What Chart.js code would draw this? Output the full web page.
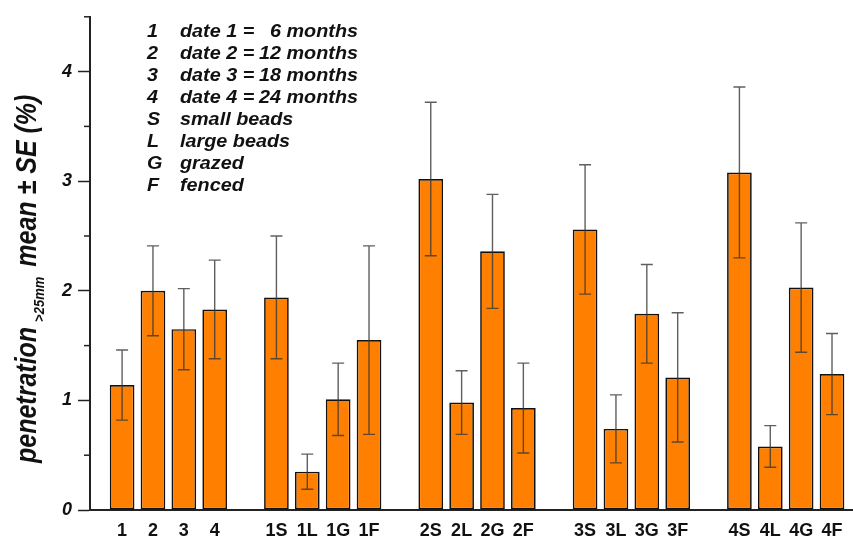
<!DOCTYPE html>
<html lang="en">
<head>
	<meta charset="UTF-8">
	<title>penetration &gt;25mm</title>
	<script src="https://cdn.jsdelivr.net/npm/chart.js"></script>
	<style>
		html,body{margin:0;padding:0;background:#fff;}
		.box{width:853px;height:537px;}
	</style>
</head>
<body>
	<div class="box">
		<canvas id="myChart" width="853" height="537"></canvas>
	</div>
</body>
<script>
	// categories ('' = gap between groups)
	var categories=['1','2','3','4','','1S','1L','1G','1F','','2S','2L','2G','2F','','3S','3L','3G','3F','','4S','4L','4G','4F'];
	// mean penetration >25mm (%)
	var means=[1.14,2.00,1.65,1.83,null,1.94,0.35,1.01,1.55,null,3.02,0.98,2.36,0.93,null,2.56,0.74,1.79,1.21,null,3.08,0.58,2.03,1.24];
	// standard error
	var errors=[0.32,0.41,0.37,0.45,null,0.56,0.16,0.33,0.86,null,0.70,0.29,0.52,0.41,null,0.59,0.31,0.45,0.59,null,0.78,0.19,0.59,0.37];
	var yTicks=[0,1,2,3,4];
	var legendKeys=['1','2','3','4','S','L','G','F'];
	var legendText=['date 1 =','date 2 =','date 3 =','date 4 =','small beads','large beads','grazed','fenced'];
	var legendMonths=['6 months','12 months','18 months','24 months','','','',''];

	var FONT='"Liberation Sans", Arial, sans-serif';

	var points=[];
	for(var i=0;i<categories.length;i++){
		if(means[i]!==null) points.push({x:i,y:means[i]});
	}

	var extras={
		id:'extras',
		afterDatasetsDraw:function(chart){
			var ctx=chart.ctx, xs=chart.scales.x, ys=chart.scales.y;
			ctx.save();
			// error bars
			ctx.strokeStyle='rgba(55,55,55,0.8)';
			ctx.lineWidth=1.4;
			for(var i=0;i<categories.length;i++){
				if(means[i]===null) continue;
				var x=xs.getPixelForValue(i);
				var top=ys.getPixelForValue(means[i]+errors[i]);
				var bot=ys.getPixelForValue(means[i]-errors[i]);
				ctx.beginPath();
				ctx.moveTo(x,top);ctx.lineTo(x,bot);
				ctx.moveTo(x-6,top);ctx.lineTo(x+6,top);
				ctx.moveTo(x-6,bot);ctx.lineTo(x+6,bot);
				ctx.stroke();
			}
			// minor ticks on y axis
			ctx.strokeStyle='#222';
			ctx.lineWidth=1.5;
			for(var v=0.5;v<=4.5;v+=1){
				var y=ys.getPixelForValue(v);
				ctx.beginPath();
				ctx.moveTo(ys.right-6,y);ctx.lineTo(ys.right,y);
				ctx.stroke();
			}
			ctx.restore();
		},
		afterDraw:function(chart){
			var ctx=chart.ctx;
			ctx.save();
			ctx.fillStyle='#111';
			ctx.textBaseline='alphabetic';
			// legend text block
			ctx.font='italic bold 18px '+FONT;
			for(var i=0;i<legendKeys.length;i++){
				var y=37+22*i;
				ctx.save();ctx.translate(147,y);ctx.scale(1.1,1);
				ctx.textAlign='left';ctx.fillText(legendKeys[i],0,0);
				ctx.restore();
				ctx.save();ctx.translate(180,y);ctx.scale(1.1,1);
				ctx.textAlign='left';ctx.fillText(legendText[i],0,0);
				ctx.restore();
				if(legendMonths[i]){
					ctx.save();ctx.translate(358,y);ctx.scale(1.1,1);
					ctx.textAlign='right';ctx.fillText(legendMonths[i],0,0);
					ctx.restore();
				}
			}
			// y axis title with subscript
			ctx.translate(36,463);
			ctx.rotate(-Math.PI/2);
			ctx.scale(1,1.15);
			ctx.textAlign='left';
			ctx.font='italic bold 25px '+FONT;
			ctx.fillText('penetration',0,0);
			var w=ctx.measureText('penetration').width+5;
			ctx.font='italic bold 13px '+FONT;
			ctx.fillText('>25mm',w,7);
			w+=ctx.measureText('>25mm').width+10;
			ctx.font='italic bold 25px '+FONT;
			ctx.fillText('mean \u00b1 SE (%)',w,0);
			ctx.restore();
		}
	};

	var ctx=document.getElementById('myChart');
	var myChart=new Chart(ctx,{
		type:'bar',
		data:{
			datasets:[{
				data:points,
				backgroundColor:'#ff8000',
				borderColor:'#111',
				borderWidth:1.7,
				borderSkipped:false,
				barPercentage:0.8,
				categoryPercentage:1
			}]
		},
		options:{
			responsive:false,
			animation:false,
			layout:{padding:{top:12,right:0,left:0,bottom:0}},
			plugins:{legend:{display:false},tooltip:{enabled:false}},
			scales:{
				x:{
					type:'linear',
					offset:false,
					min:-1.04,
					max:23.68,
					grid:{display:false,drawTicks:false,offset:false},
					border:{display:true,color:'#222',width:2},
					afterBuildTicks:function(s){
						s.ticks=categories.map(function(c,i){return {value:i};});
					},
					afterFit:function(s){s.height=27;},
					ticks:{
						autoSkip:false,
						maxRotation:0,
						padding:10,
						color:'#111',
						font:{family:FONT,size:18,weight:'bold'},
						callback:function(v){return categories[v]||'';}
					}
				},
				y:{
					min:0,
					max:4.5,
					grid:{
						drawOnChartArea:false,
						drawTicks:true,
						tickLength:12,
						tickWidth:1.5,
						tickColor:function(c){return (c.tick&&yTicks.indexOf(c.tick.value)>=0)?'#222':'rgba(0,0,0,0)';}
					},
					border:{display:true,color:'#222',width:2},
					afterFit:function(s){s.width=90;},
					ticks:{
						stepSize:0.5,
						padding:6,
						color:'#111',
						font:{family:FONT,size:18,weight:'bold',style:'italic'},
						callback:function(v){return yTicks.indexOf(v)>=0?String(v):'';}
					}
				}
			}
		},
		plugins:[extras]
	});
</script>
</html>
